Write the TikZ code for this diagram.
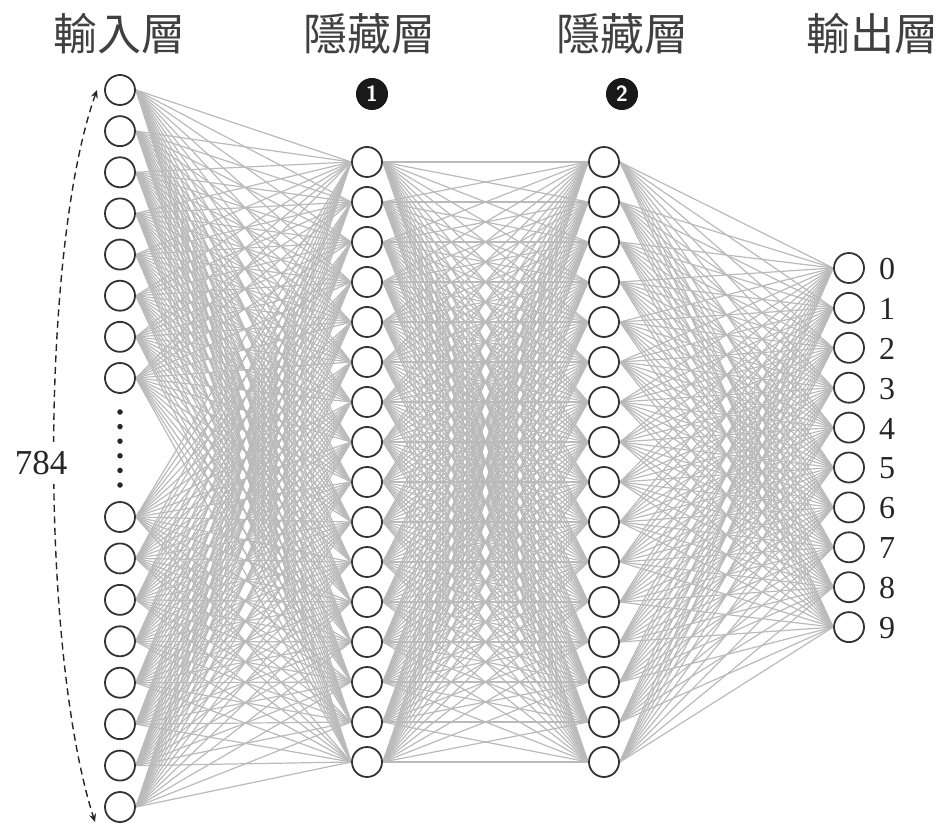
\documentclass[tikz,border=0pt]{standalone}
\usepackage{fontspec}
\setmainfont{Liberation Serif}
\newfontfamily\cjk{Noto Sans CJK TC}
\usetikzlibrary{arrows.meta,backgrounds}
\begin{document}
\begin{tikzpicture}[x=1pt,y=-1pt,
  neuron/.style={circle,draw=black!80,line width=1.8pt,fill=white,minimum size=30pt,inner sep=0pt},
  conn/.style={draw=black!27,line width=1.2pt},
  title/.style={font=\cjk\fontsize{44}{48}\selectfont,text=black!75},
  digit/.style={font=\fontsize{32}{34}\selectfont,text=black!85,anchor=west,inner sep=0pt},
  badge/.style={circle,draw=black!90,line width=1pt,fill=black!90,text=white,font=\sffamily\bfseries\fontsize{22}{22}\selectfont,minimum size=31pt,inner sep=0pt},
  dotn/.style={circle,fill=black!85,minimum size=5.5pt,inner sep=0pt},
  sizearrow/.style={dash pattern=on 7pt off 4.5pt,line width=1.4pt,draw=black!85,
    {Stealth[length=8pt,width=7pt]}-{Stealth[length=8pt,width=7pt]}}]
\useasboundingbox (0,0) rectangle (942,829);

% titles
\node[title] (t1) at (119,34) {輸入層};
\node[title] (t2) at (369,34) {隱藏層};
\node[title] (t3) at (622,34) {隱藏層};
\node[title] (t4) at (872,34) {輸出層};
\node[badge] (b1n) at (372,94) {1};
\node[badge] (b2n) at (622,94) {2};

% input layer
\foreach \i in {0,...,7} \node[neuron] (i\i) at (120,{90+41.14*\i}) {};
\foreach \i in {8,...,15} \node[neuron] (i\i) at (120,{517+41.43*(\i-8)}) {};
\foreach \k in {0,...,5} \node[dotn] (d\k) at (120,{412+14.6*\k}) {};

% hidden layers
\foreach \i in {0,...,15} \node[neuron] (a\i) at (367,{162+40*\i}) {};
\foreach \i in {0,...,15} \node[neuron] (b\i) at (604,{162+40*\i}) {};

% output layer
\foreach \i in {0,...,9} {
  \node[neuron] (o\i) at (849,{268+39.9*\i}) {};
  \node[digit] (l\i) at (879,{269+39.9*\i}) {\i};
}

% connections
\begin{pgfonlayer}{background}
\foreach \i in {0,...,15} \foreach \j in {0,...,15} \draw[conn] (i\i.east) -- (a\j.west);
\foreach \i in {0,...,15} \foreach \j in {0,...,15} \draw[conn] (a\i.east) -- (b\j.west);
\foreach \i in {0,...,15} \foreach \j in {0,...,9} \draw[conn] (b\i.east) -- (o\j.west);
\end{pgfonlayer}

% size arrow
\coordinate (arrtop) at (97,90);
\coordinate (arrbot) at (95,822);
\draw[sizearrow] (arrtop) .. controls (40,250) and (40,650) .. (arrbot);
\node[fill=white,inner xsep=1pt,inner ysep=9pt,font=\fontsize{35}{37}\selectfont,text=black!85] (n784) at (41,463) {784};
\end{tikzpicture}
\end{document}
